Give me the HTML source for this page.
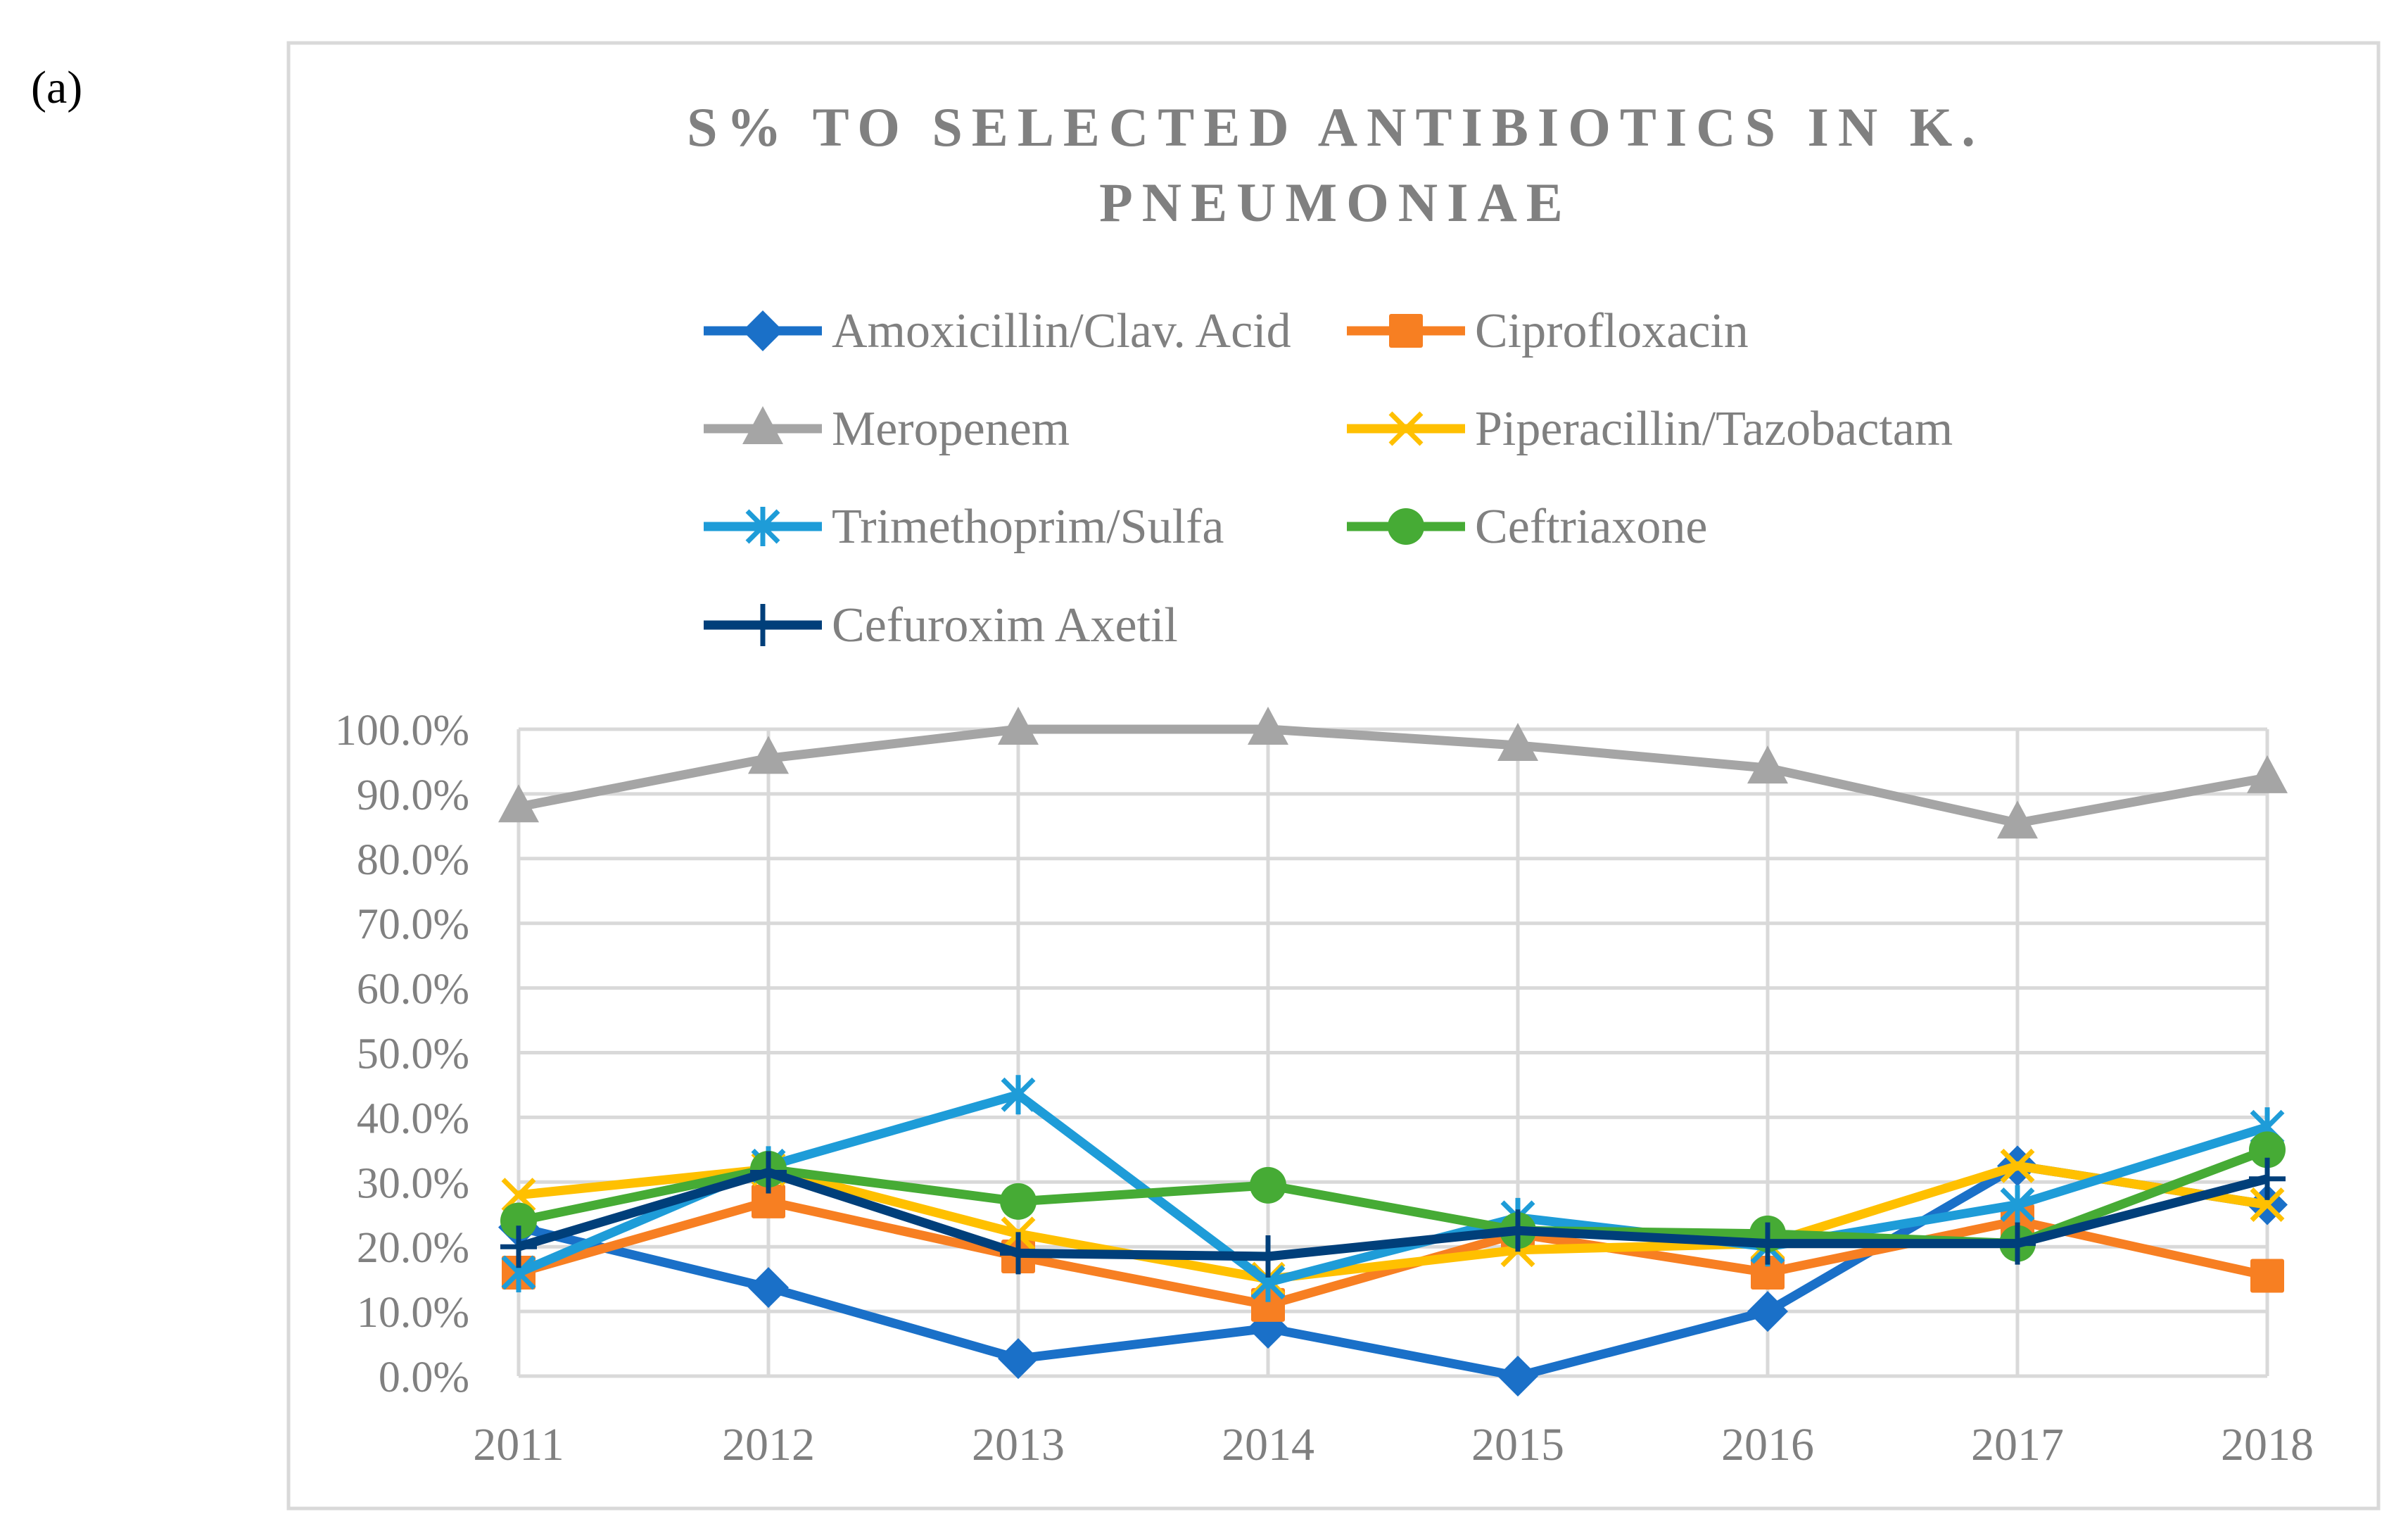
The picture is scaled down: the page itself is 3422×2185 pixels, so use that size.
<!DOCTYPE html>
<html><head><meta charset="utf-8"><style>
html,body{margin:0;padding:0;background:#fff;}
svg{display:block;}
text{font-family:"Liberation Serif",serif;}
</style></head><body>
<svg id="chart" width="3422" height="2185" viewBox="0 0 3422 2185" xmlns="http://www.w3.org/2000/svg">
<text x="44" y="146" font-size="66" fill="#000">(a)</text>
<rect x="410" y="61" width="2970" height="2082" fill="#fff" stroke="#d9d9d9" stroke-width="5"/>
<g fill="#808080" font-weight="bold" font-size="78" text-anchor="middle" letter-spacing="13">
<text x="1898" y="207">S% TO SELECTED ANTIBIOTICS IN K.</text>
<text x="1898" y="314">PNEUMONIAE</text>
</g>
<g id="grid"></g>
<g id="yticks"></g>
<g id="xticks"></g>
<g id="series"></g>
<g id="legend"></g>
</svg>
<script>
const years = ["2011","2012","2013","2014","2015","2016","2017","2018"];
const yTickLabels = ["0.0%","10.0%","20.0%","30.0%","40.0%","50.0%","60.0%","70.0%","80.0%","90.0%","100.0%"];
const seriesNames = ["Amoxicillin/Clav. Acid","Ciprofloxacin","Meropenem","Piperacillin/Tazobactam","Trimethoprim/Sulfa","Ceftriaxone","Cefuroxim Axetil"];
const amox = [23, 13.7, 2.7, 7.4, 0, 10, 32.5, 26.5];
const cipro = [16, 27, 18.5, 11, 22, 16, 24, 15.5];
const mero = [88, 95.5, 100, 100, 97.5, 94, 85.5, 92.5];
const pip = [28, 32, 22, 15, 19.5, 20.5, 32.5, 26.5];
const tmp = [16, 32.5, 43.5, 14.5, 24.5, 20, 26.5, 38.5];
const ceftri = [24, 32, 27, 29.5, 22.5, 22, 20.5, 35];
const cefur = [20, 31.5, 19, 18.5, 22.5, 20.5, 20.5, 30.5];

const NS = "http://www.w3.org/2000/svg";
const X0 = 737, X1 = 3222, Y0 = 1955, Y1 = 1036;
const xS = i => X0 + (X1 - X0) * i / (years.length - 1);
const yS = v => Y0 - (Y0 - Y1) * v / 100;
function mk(tag, attrs, parent){const e=document.createElementNS(NS,tag);for(const k in attrs)e.setAttribute(k,attrs[k]);parent.appendChild(e);return e;}

const grid = document.getElementById('grid');
yTickLabels.forEach((t,i)=>{
  const l = mk('line',{x1:X0,x2:X1,y1:yS(i*10),y2:yS(i*10),stroke:'#d9d9d9','stroke-width':5},grid);
  
  
  const tx = mk('text',{x:667,y:yS(i*10)+22,'font-size':62,fill:'#808080','text-anchor':'end'},document.getElementById('yticks'));
  tx.textContent = t;
  
  
});
years.forEach((y,i)=>{
  const l = mk('line',{x1:xS(i),x2:xS(i),y1:Y1,y2:Y0,stroke:'#d9d9d9','stroke-width':5},grid);
  
  
  const tx = mk('text',{x:xS(i),y:2074,'font-size':66,fill:'#808080','text-anchor':'middle'},document.getElementById('xticks'));
  tx.textContent = y;
  
  
});

const colors = ['#1a70c8','#f77f22','#a5a5a5','#ffc000','#1e9cd8','#46ab35','#003f7a'];
const markers = ['diamond','square','triangle','x','star','circle','plus'];
const data = [amox,cipro,mero,pip,tmp,ceftri,cefur];

function marker(type,x,y,c,g){
  let e;
  if(type==='diamond') e=mk('path',{d:`M${x} ${y-29}L${x+29} ${y}L${x} ${y+29}L${x-29} ${y}Z`,fill:c},g);
  else if(type==='square') e=mk('rect',{x:x-24,y:y-24,width:48,height:48,fill:c,rx:3},g);
  else if(type==='triangle') e=mk('path',{d:`M${x} ${y-32}L${x+29} ${y+22}L${x-29} ${y+22}Z`,fill:c},g);
  else if(type==='circle') e=mk('circle',{cx:x,cy:y,r:26,fill:c},g);
  else if(type==='x') e=mk('path',{d:`M${x-22} ${y-22}L${x+22} ${y+22}M${x+22} ${y-22}L${x-22} ${y+22}`,stroke:c,'stroke-width':7,fill:'none'},g);
  else if(type==='star') e=mk('path',{d:`M${x-22} ${y-22}L${x+22} ${y+22}M${x+22} ${y-22}L${x-22} ${y+22}M${x} ${y-28}L${x} ${y+28}`,stroke:c,'stroke-width':7,fill:'none'},g);
  else e=mk('path',{d:`M${x-26} ${y}L${x+26} ${y}M${x} ${y-30}L${x} ${y+30}`,stroke:c,'stroke-width':7,fill:'none'},g);
  
  
}

const sg = document.getElementById('series');
const order = [2,0,1,3,4,5,6];
order.forEach(s=>{
  const g = mk('g',{},sg);
  
  
  const pts = data[s].map((v,i)=>xS(i)+','+yS(v)).join(' ');
  const pl = mk('polyline',{points:pts,fill:'none',stroke:colors[s],'stroke-width':13,'stroke-linejoin':'round'},g);
  
  
  data[s].forEach((v,i)=>marker(markers[s],xS(i),yS(v),colors[s],g));
});

const lg = document.getElementById('legend');
const legPos = [[1000,470],[1914,470],[1000,609],[1914,609],[1000,748],[1914,748],[1000,888]];
seriesNames.forEach((n,s)=>{
  const [lx,ly]=legPos[s];
  const g = mk('g',{},lg);
  
  
  mk('line',{x1:lx,x2:lx+168,y1:ly,y2:ly,stroke:colors[s],'stroke-width':13},g);
  marker(markers[s],lx+84,ly,colors[s],g);
  const t = mk('text',{x:lx+182,y:ly+23,'font-size':70,fill:'#808080'},g);
  t.textContent = n;
  
  
});
</script>
</body></html>
